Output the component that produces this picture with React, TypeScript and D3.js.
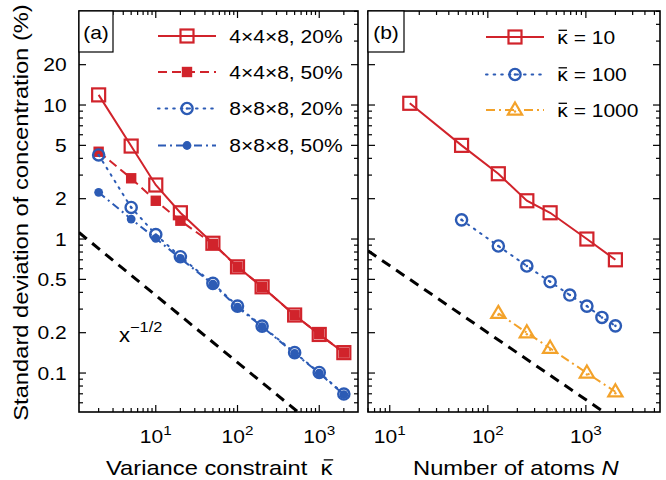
import React from 'react';
import * as d3 from 'd3';

// ---------- data ----------
const kappaA = [2, 5, 10, 20, 50, 100, 200, 500, 1000, 2000];
const red20 = [11.9, 4.94, 2.53, 1.57, 0.93, 0.62, 0.44, 0.271, 0.194, 0.142];
const red50 = [4.48, 2.84, 1.93, 1.37, 0.92, 0.62, 0.44, 0.27, 0.195, 0.142];
const blue20 = [4.24, 1.72, 1.08, 0.738, 0.467, 0.316, 0.224, 0.142, 0.101, 0.0697];
const blue50 = [2.23, 1.41, 1.01, 0.718, 0.46, 0.31, 0.222, 0.14, 0.1, 0.069];

const atomsK10 = [16, 54, 128, 250, 432, 1024, 2000];
const sdK10 = [10.3, 5.0, 3.07, 1.93, 1.57, 1.0, 0.7];
const atomsK100 = [54, 128, 250, 432, 686, 1024, 1458, 2000];
const sdK100 = [1.39, 0.887, 0.629, 0.48, 0.382, 0.316, 0.26, 0.225];
const atomsK1000 = [128, 250, 432, 1024, 2000];
const sdK1000 = [0.279, 0.2, 0.153, 0.1, 0.0725];

const legendA = ['4×4×8, 20%', '4×4×8, 50%', '8×8×8, 20%', '8×8×8, 50%'];
const legendB = ['10', '100', '1000'];
const yTickLabels = [0.1, 0.2, 0.5, 1, 2, 5, 10, 20];
const xTickExpA = [1, 2, 3];
const xTickExpB = [1, 2, 3];
const refCoefA = 1.2;
const refCoefB = 2.0;

// ---------- styles ----------
const RED = '#d1232b';
const BLUE = '#2c5bb5';
const ORANGE = '#f3a22a';
const FONT = 'Liberation Sans, Arial, Helvetica, sans-serif';
const SX = 1.13; // horizontal stretch of the reference typeface
const FS = 18.6; // small text size
const FT = 21; // title size
const DOT = '1.6 6';

const top = 11, bottom = 412;
const y = d3.scaleLog().domain([0.0512, 50.3]).range([bottom, top]);
const xA = d3.scaleLog().domain([1.15, 2980]).range([79, 358]);
const xB = d3.scaleLog().domain([6, 5700]).range([368, 660]);

function minorMajor(domain: number[]) {
  const out: { v: number; major: boolean }[] = [];
  const lo = Math.floor(Math.log10(domain[0]));
  const hi = Math.ceil(Math.log10(domain[1]));
  for (let e = lo; e <= hi; e++) {
    for (let m = 1; m <= 9; m++) {
      const v = m * Math.pow(10, e);
      if (v >= domain[0] && v <= domain[1]) out.push({ v, major: m === 1 });
    }
  }
  return out;
}

function T({ x, y: yy, anchor = 'start', size = FS, rotate = 0, children, extra }: any) {
  return (
    <g transform={`translate(${x},${yy}) rotate(${rotate}) scale(${SX},1)`}>
      <text x={0} y={0} textAnchor={anchor} fontSize={size} fontFamily={FONT} fill="#000">
        {children}
      </text>
      {extra}
    </g>
  );
}

function Marker({ type, cx, cy, color }: { type: string; cx: number; cy: number; color: string }) {
  if (type === 'sqOpen')
    return <rect x={cx - 6.5} y={cy - 6.5} width={13} height={13} fill="none" stroke={color} strokeWidth={2.2} />;
  if (type === 'sqFill')
    return <rect x={cx - 5.2} y={cy - 5.2} width={10.4} height={10.4} fill={color} />;
  if (type === 'circDot')
    return (
      <g>
        <circle cx={cx} cy={cy} r={5.6} fill="none" stroke={color} strokeWidth={2.4} />
        <circle cx={cx} cy={cy} r={1.3} fill={color} />
      </g>
    );
  if (type === 'circFill') return <circle cx={cx} cy={cy} r={4.4} fill={color} />;
  if (type === 'triDot') {
    const s = 7.5;
    const pts = `${cx},${cy - s} ${cx + s * 0.95},${cy + s * 0.62} ${cx - s * 0.95},${cy + s * 0.62}`;
    return (
      <g>
        <polygon points={pts} fill="none" stroke={color} strokeWidth={2.2} />
        <circle cx={cx} cy={cy + 1.5} r={1.2} fill={color} />
      </g>
    );
  }
  return null;
}

function Series({ xs, ys, xScale, color, dash, marker, width = 2 }: any) {
  const line = d3
    .line<number>()
    .x((_, i) => xScale(xs[i]))
    .y((d) => y(d));
  return (
    <g>
      <path d={line(ys) || ''} fill="none" stroke={color} strokeWidth={width} strokeDasharray={dash} strokeLinecap={dash === DOT ? 'round' : 'butt'} />
      {ys.map((v: number, i: number) => (
        <Marker key={i} type={marker} cx={xScale(xs[i])} cy={y(v)} color={color} />
      ))}
    </g>
  );
}

function Frame({ xScale, showLabels }: { xScale: any; showLabels: boolean }) {
  const [x0, x1] = xScale.range();
  const yt = minorMajor(y.domain());
  const xt = minorMajor(xScale.domain());
  const majorY = new Set(yTickLabels.map((v) => v.toPrecision(3)));
  return (
    <g>
      {yt.map((t, i) => {
        const isMajor = majorY.has(t.v.toPrecision(3));
        const len = isMajor ? 7 : 4;
        const yy = y(t.v);
        return (
          <g key={'y' + i}>
            <line x1={x0} x2={x0 + len} y1={yy} y2={yy} stroke="#000" strokeWidth={1.2} />
            <line x1={x1} x2={x1 - len} y1={yy} y2={yy} stroke="#000" strokeWidth={1.2} />
          </g>
        );
      })}
      {xt.map((t, i) => {
        const len = t.major ? 7 : 4;
        const xx = xScale(t.v);
        return (
          <g key={'x' + i}>
            <line x1={xx} x2={xx} y1={bottom} y2={bottom - len} stroke="#000" strokeWidth={1.2} />
            <line x1={xx} x2={xx} y1={top} y2={top + len} stroke="#000" strokeWidth={1.2} />
          </g>
        );
      })}
      <rect x={x0} y={top} width={x1 - x0} height={bottom - top} fill="none" stroke="#000" strokeWidth={1.6} />
      {showLabels &&
        yTickLabels.map((v) => (
          <T key={v} x={66.7} y={y(v) + 6.7} anchor="end">
            {String(v)}
          </T>
        ))}
    </g>
  );
}

function XLabels({ xScale, exps }: { xScale: any; exps: number[] }) {
  return (
    <g>
      {exps.map((e) => (
        <T key={e} x={xScale(Math.pow(10, e))} y={443.3} anchor="middle">
          10
          <tspan dy={-8.5} fontSize={13.5}>
            {e}
          </tspan>
        </T>
      ))}
    </g>
  );
}

function RefLine({ xScale, coef, clip }: any) {
  const [d0, d1] = xScale.domain();
  return (
    <line
      x1={xScale(d0)}
      y1={y(coef / Math.sqrt(d0))}
      x2={xScale(d1)}
      y2={y(coef / Math.sqrt(d1))}
      stroke="#000"
      strokeWidth={3}
      strokeDasharray="10 7"
      clipPath={`url(#${clip})`}
    />
  );
}

function KappaBar({ offset, size }: { offset: number; size: number }) {
  return <line x1={offset + 0.06 * size} x2={offset + 0.46 * size} y1={-0.72 * size} y2={-0.72 * size} stroke="#000" strokeWidth={1.3} />;
}

function LegendRow({ x1, x2, yy, color, dash, marker, label, tx, kappa }: any) {
  return (
    <g>
      <line x1={x1} x2={x2} y1={yy} y2={yy} stroke={color} strokeWidth={2} strokeDasharray={dash} strokeLinecap={dash === DOT ? 'round' : 'butt'} />
      <Marker type={marker} cx={(x1 + x2) / 2} cy={yy} color={color} />
      <T x={tx} y={yy + 6.7} extra={kappa ? <KappaBar offset={0} size={FS} /> : null}>
        {kappa ? `κ = ${label}` : label}
      </T>
    </g>
  );
}

export default function App() {
  const styleA = [
    { color: RED, dash: undefined, marker: 'sqOpen', ys: red20 },
    { color: RED, dash: '9 5', marker: 'sqFill', ys: red50 },
    { color: BLUE, dash: DOT, marker: 'circDot', ys: blue20 },
    { color: BLUE, dash: '8 4 2 4', marker: 'circFill', ys: blue50 },
  ];
  const styleB = [
    { color: RED, dash: undefined, marker: 'sqOpen', xs: atomsK10, ys: sdK10 },
    { color: BLUE, dash: DOT, marker: 'circDot', xs: atomsK100, ys: sdK100 },
    { color: ORANGE, dash: '9 4 2 4', marker: 'triDot', xs: atomsK1000, ys: sdK1000 },
  ];
  const rowsA = [36, 72, 108.5, 145.5];
  const rowsB = [37, 74.5, 110];
  const titleA = 'Variance constraint\u00A0\u00A0';
  // advance of the title text before κ, in em (Arial / Liberation metrics)
  const titleAEm = 8.559 + 0.556;
  return (
    <svg width={666} height={480} style={{ position: 'absolute', left: 0, top: 0, background: '#fff' }} fontFamily={FONT}>
      <defs>
        <clipPath id="clipA">
          <rect x={79} y={top} width={279} height={bottom - top} />
        </clipPath>
        <clipPath id="clipB">
          <rect x={368} y={top} width={292} height={bottom - top} />
        </clipPath>
      </defs>
      <rect width={666} height={480} fill="#fff" />

      {/* Panel A */}
      <RefLine xScale={xA} coef={refCoefA} clip="clipA" />
      <g clipPath="url(#clipA)">
        {styleA.map((s, i) => (
          <Series key={i} xs={kappaA} ys={s.ys} xScale={xA} color={s.color} dash={s.dash} marker={s.marker} />
        ))}
      </g>
      <Frame xScale={xA} showLabels={true} />
      <rect x={79} y={top} width={34} height={41} fill="#fff" stroke="#000" strokeWidth={1.2} />
      <T x={96} y={38.8} anchor="middle">(a)</T>
      {styleA.map((s, i) => (
        <LegendRow key={i} x1={158} x2={216} yy={rowsA[i]} color={s.color} dash={s.dash} marker={s.marker} label={legendA[i]} tx={229.3} />
      ))}
      <T x={119} y={341.5} size={19.5}>
        x<tspan dy={-10} fontSize={14.5}>−1/2</tspan>
      </T>
      <XLabels xScale={xA} exps={xTickExpA} />
      <T x={106} y={475} size={FT} extra={<KappaBar offset={titleAEm * FT} size={FT} />}>
        {titleA}κ
      </T>

      {/* Panel B */}
      <RefLine xScale={xB} coef={refCoefB} clip="clipB" />
      <g clipPath="url(#clipB)">
        {styleB.map((s, i) => (
          <Series key={i} xs={s.xs} ys={s.ys} xScale={xB} color={s.color} dash={s.dash} marker={s.marker} />
        ))}
      </g>
      <Frame xScale={xB} showLabels={false} />
      <rect x={368} y={top} width={36} height={41} fill="#fff" stroke="#000" strokeWidth={1.2} />
      <T x={386} y={38.8} anchor="middle">(b)</T>
      {styleB.map((s, i) => (
        <LegendRow key={i} x1={486} x2={544} yy={rowsB[i]} color={s.color} dash={s.dash} marker={s.marker} label={legendB[i]} tx={557.3} kappa />
      ))}
      <XLabels xScale={xB} exps={xTickExpB} />
      <T x={515.8} y={475} size={FT} anchor="middle">
        Number of atoms <tspan fontStyle="italic">N</tspan>
      </T>

      {/* Y axis title */}
      <T x={28.3} y={212.5} size={FT} anchor="middle" rotate={-90}>
        Standard deviation of concentration (%)
      </T>
    </svg>
  );
}
